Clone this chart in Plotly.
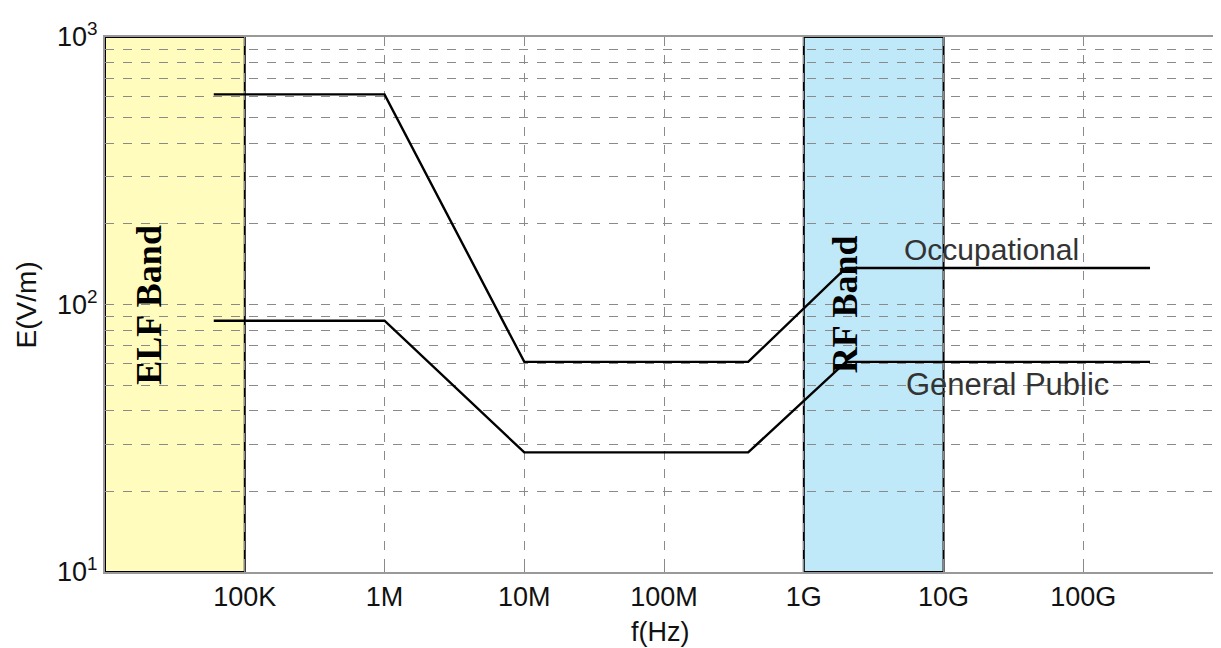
import numpy as np
import plotly.graph_objects as go

# Data (reference levels)
f_occ = [6e4, 1e6, 1e7, 4e8, 2e9, 3e11]
e_occ = [610, 610, 61, 61, 137, 137]
f_pub = [6e4, 1e6, 1e7, 4e8, 2e9, 3e11]
e_pub = [87, 87, 28, 28, 61, 61]

x_tickvals = [1e5, 1e6, 1e7, 1e8, 1e9, 1e10, 1e11]
x_ticktext = ["100K", "1M", "10M", "100M", "1G", "10G", "100G"]
y_tickvals = [10, 100, 1000]
y_ticktext = ["10<sup>1</sup>", "10<sup>2</sup>", "10<sup>3</sup>"]
y_minor = [v * d for d in (10, 100) for v in range(2, 10)]

elf_band = [1e4, 1e5]
rf_band = [1e9, 1e10]

SANS = "Liberation Sans, Arial, sans-serif"
SERIF = "Liberation Serif, Times New Roman, serif"

fig = go.Figure()
fig.add_trace(go.Scatter(x=f_occ, y=e_occ, mode="lines",
                         line=dict(color="black", width=2.4), name="Occupational"))
fig.add_trace(go.Scatter(x=f_pub, y=e_pub, mode="lines",
                         line=dict(color="black", width=2.4), name="General Public"))

for band, col in ((elf_band, "#FFFCBE"), (rf_band, "#BFE8F8")):
    fig.add_shape(type="rect", xref="x", yref="y", x0=band[0], x1=band[1],
                  y0=10, y1=1000, fillcolor=col, layer="below",
                  line=dict(color="black", width=2))

grid = dict(gridcolor="#8a8a8a", griddash="dash", gridwidth=1)

fig.update_xaxes(type="log", range=[4, 11.985], tickvals=x_tickvals, ticktext=x_ticktext,
                 showgrid=True, **grid, ticks="inside", ticklen=6, tickcolor="#888",
                 showline=True, linecolor="#999", linewidth=2, mirror=True,
                 tickfont=dict(family=SANS, size=27, color="#111"),
                 automargin=False, zeroline=False)
fig.update_yaxes(type="log", range=[1, 3], tickvals=y_tickvals, ticktext=y_ticktext,
                 showgrid=True, **grid, ticks="inside", ticklen=6, tickcolor="#888",
                 showline=True, linecolor="#999", linewidth=2, mirror=True,
                 tickfont=dict(family=SANS, size=27, color="#111"),
                 minor=dict(tickvals=y_minor, showgrid=True, gridcolor="#8a8a8a",
                            griddash="dash", gridwidth=1, ticks=""),
                 automargin=False, zeroline=False)

# axis titles
fig.add_annotation(x=0.497, y=-0.113, xref="paper", yref="paper", text="f(Hz)",
                   showarrow=False, yanchor="middle",
                   font=dict(family=SANS, size=27, color="#111"))
fig.add_annotation(x=-0.07, y=0.5, xref="paper", yref="paper", text="E(V/m)",
                   showarrow=False, textangle=-90, xanchor="center",
                   font=dict(family=SANS, size=28, color="#111"))

fig.add_annotation(x=4.31, y=2.0, xref="x", yref="y", text="<b>ELF Band</b>",
                   textangle=-90, showarrow=False,
                   font=dict(family=SERIF, size=36, color="black"))
fig.add_annotation(x=9.293, y=2.0, xref="x", yref="y", text="<b>RF Band</b>",
                   textangle=-90, showarrow=False,
                   font=dict(family=SERIF, size=36, color="black"))
fig.add_annotation(x=9.70, y=2.205, xref="x", yref="y", text="Occupational",
                   xanchor="left", showarrow=False,
                   font=dict(family=SANS, size=30, color="#333"))
fig.add_annotation(x=9.716, y=1.70, xref="x", yref="y", text="General Public",
                   xanchor="left", showarrow=False,
                   font=dict(family=SANS, size=31, color="#333"))

# the page body adds an 8px margin, so the figure is sized to fit the window
fig.update_layout(width=1213, height=640, margin=dict(l=97, r=0, t=29, b=76),
                  plot_bgcolor="white", paper_bgcolor="white", showlegend=False)

fig.write_html("out.html")
